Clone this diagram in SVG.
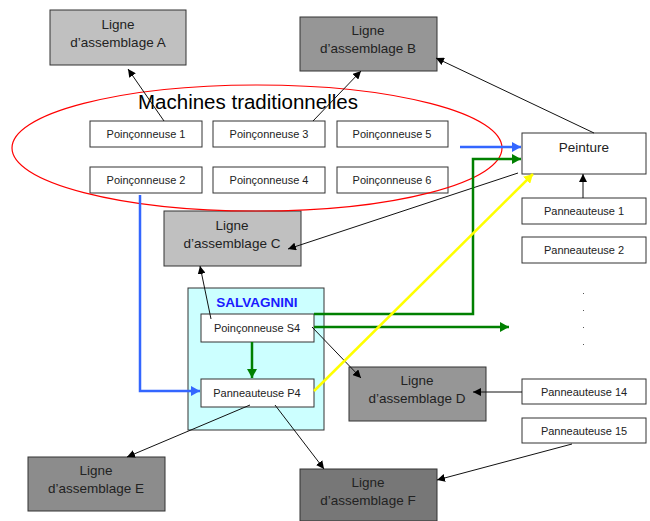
<svg xmlns="http://www.w3.org/2000/svg" width="650" height="521" viewBox="0 0 650 521">
<defs>
<style>
.box{stroke:#333;stroke-width:1}
.w{fill:#fff}
.t{font-family:"Liberation Sans",Arial,sans-serif;fill:#222;text-anchor:middle}
.s{font-size:11px}
.l{font-size:13.5px}
.c{fill:none;stroke:#111;stroke-width:1}
</style>
<marker id="ab" markerUnits="userSpaceOnUse" markerWidth="9" markerHeight="8" refX="8" refY="4" orient="auto"><path d="M0,0 L8,4 L0,8 z" fill="#000"/></marker>
<marker id="ablue" markerUnits="userSpaceOnUse" markerWidth="10" markerHeight="10" refX="9" refY="5" orient="auto"><path d="M0,0 L9,5 L0,10 z" fill="#3366ff"/></marker>
<marker id="agreen" markerUnits="userSpaceOnUse" markerWidth="10" markerHeight="10" refX="9" refY="5" orient="auto"><path d="M0,0 L9,5 L0,10 z" fill="#008000"/></marker>
<marker id="ayel" markerUnits="userSpaceOnUse" markerWidth="10" markerHeight="10" refX="9" refY="5" orient="auto"><path d="M0,0 L9,5 L0,10 z" fill="#ffff00"/></marker>
</defs>
<rect width="650" height="521" fill="#fff"/>

<g id="salvagnini">
<rect x="188" y="288" width="136" height="142" fill="#ccffff" class="box"/>
<text x="257" y="307" style="font-family:'Liberation Sans',Arial,sans-serif;font-weight:bold;font-size:13.5px;fill:#1a1aff" text-anchor="middle">SALVAGNINI</text>
</g>

<g id="ligneA"><rect x="50" y="10" width="136" height="55" fill="#c0c0c0" class="box"/><text class="t l" x="118" y="29">Ligne</text><text class="t l" x="118" y="47">d’assemblage A</text></g>
<g id="ligneB"><rect x="300" y="17" width="137" height="54" fill="#969696" class="box"/><text class="t l" x="368" y="35">Ligne</text><text class="t l" x="368" y="53">d’assemblage B</text></g>
<g id="ligneC"><rect x="164" y="211" width="137" height="55" fill="#c0c0c0" class="box"/><text class="t l" x="232" y="230">Ligne</text><text class="t l" x="232" y="248">d’assemblage C</text></g>
<g id="ligneD"><rect x="349" y="367" width="137" height="54" fill="#969696" class="box"/><text class="t l" x="417" y="385">Ligne</text><text class="t l" x="417" y="403">d’assemblage D</text></g>
<g id="ligneE"><rect x="28" y="457" width="137" height="54" fill="#8c8c8c" class="box"/><text class="t l" x="96" y="475">Ligne</text><text class="t l" x="96" y="493">d’assemblage E</text></g>
<g id="ligneF"><rect x="300" y="469" width="137" height="52" fill="#777777" class="box"/><text class="t l" x="368" y="487">Ligne</text><text class="t l" x="368" y="505">d’assemblage F</text></g>

<g id="poin1"><rect x="90" y="121" width="112" height="26" class="box w"/><text class="t s" x="146" y="138">Poinçonneuse 1</text></g>
<g id="poin3"><rect x="213" y="121" width="112" height="26" class="box w"/><text class="t s" x="269" y="138">Poinçonneuse 3</text></g>
<g id="poin5"><rect x="337" y="121" width="111" height="26" class="box w"/><text class="t s" x="392" y="138">Poinçonneuse 5</text></g>
<g id="poin2"><rect x="90" y="167" width="112" height="26" class="box w"/><text class="t s" x="146" y="184">Poinçonneuse 2</text></g>
<g id="poin4"><rect x="213" y="167" width="112" height="26" class="box w"/><text class="t s" x="269" y="184">Poinçonneuse 4</text></g>
<g id="poin6"><rect x="337" y="167" width="111" height="26" class="box w"/><text class="t s" x="392" y="184">Poinçonneuse 6</text></g>

<g id="peinture"><rect x="522" y="133" width="124" height="41" class="box w"/><text class="t" style="font-size:13.5px" x="584" y="152">Peinture</text></g>
<g id="pan1"><rect x="522" y="198" width="124" height="26" class="box w"/><text class="t s" x="584" y="215">Panneauteuse 1</text></g>
<g id="pan2"><rect x="522" y="237" width="124" height="26" class="box w"/><text class="t s" x="584" y="254">Panneauteuse 2</text></g>
<g id="dots" fill="#555"><rect x="583" y="293" width="1" height="1"/><rect x="583" y="310" width="1" height="1"/><rect x="583" y="327" width="1" height="1"/><rect x="583" y="344" width="1" height="1"/></g>
<g id="pan14"><rect x="522" y="379" width="124" height="25" class="box w"/><text class="t s" x="584" y="396">Panneauteuse 14</text></g>
<g id="pan15"><rect x="522" y="418" width="124" height="25" class="box w"/><text class="t s" x="584" y="435">Panneauteuse 15</text></g>

<g id="s4"><rect x="201" y="314" width="113" height="28" class="box w"/><text class="t s" x="257" y="332">Poinçonneuse S4</text></g>
<g id="p4"><rect x="201" y="379" width="113" height="28" class="box w"/><text class="t s" x="257" y="397">Panneauteuse P4</text></g>

<g id="machines">
<ellipse cx="257" cy="148" rx="245" ry="63" fill="none" stroke="#ff0000" stroke-width="1.2"/>
<text x="138" y="109" style="font-family:'Liberation Sans',Arial,sans-serif;font-size:20.5px;fill:#000">Machines traditionnelles</text>
</g>

<g id="connectors">
<line class="c" x1="164" y1="121" x2="128" y2="69" marker-end="url(#ab)"/>
<line class="c" x1="313" y1="121" x2="361" y2="71" marker-end="url(#ab)"/>
<line class="c" x1="594" y1="133" x2="436" y2="58" marker-end="url(#ab)"/>
<line class="c" x1="583" y1="198" x2="583" y2="174" marker-end="url(#ab)"/>
<line class="c" x1="518" y1="173" x2="288" y2="249" marker-end="url(#ab)"/>
<line class="c" x1="211" y1="319" x2="200" y2="266" marker-end="url(#ab)"/>
<line class="c" x1="312" y1="327" x2="361" y2="378" marker-end="url(#ab)"/>
<line class="c" x1="522" y1="392" x2="473" y2="392" marker-end="url(#ab)"/>
<line class="c" x1="572" y1="444" x2="437" y2="480" marker-end="url(#ab)"/>
<line class="c" x1="250" y1="405" x2="127" y2="457" marker-end="url(#ab)"/>
<line class="c" x1="275" y1="405" x2="324" y2="469" marker-end="url(#ab)"/>
<line x1="460" y1="147" x2="521" y2="147" stroke="#3366ff" stroke-width="2.5" marker-end="url(#ablue)"/>
<polyline points="140,195 140,391 200,391" fill="none" stroke="#3366ff" stroke-width="2.5" marker-end="url(#ablue)"/>
<polyline points="314,314 473,314 473,159 521,159" fill="none" stroke="#008000" stroke-width="2.5" marker-end="url(#agreen)"/>
<line x1="314" y1="327" x2="509" y2="327" stroke="#008000" stroke-width="2.5" marker-end="url(#agreen)"/>
<line x1="252" y1="342" x2="252" y2="378" stroke="#008000" stroke-width="2.5" marker-end="url(#agreen)"/>
<line x1="314" y1="391" x2="533" y2="174" stroke="#ffff00" stroke-width="2.5" marker-end="url(#ayel)"/>
</g>
</svg>
